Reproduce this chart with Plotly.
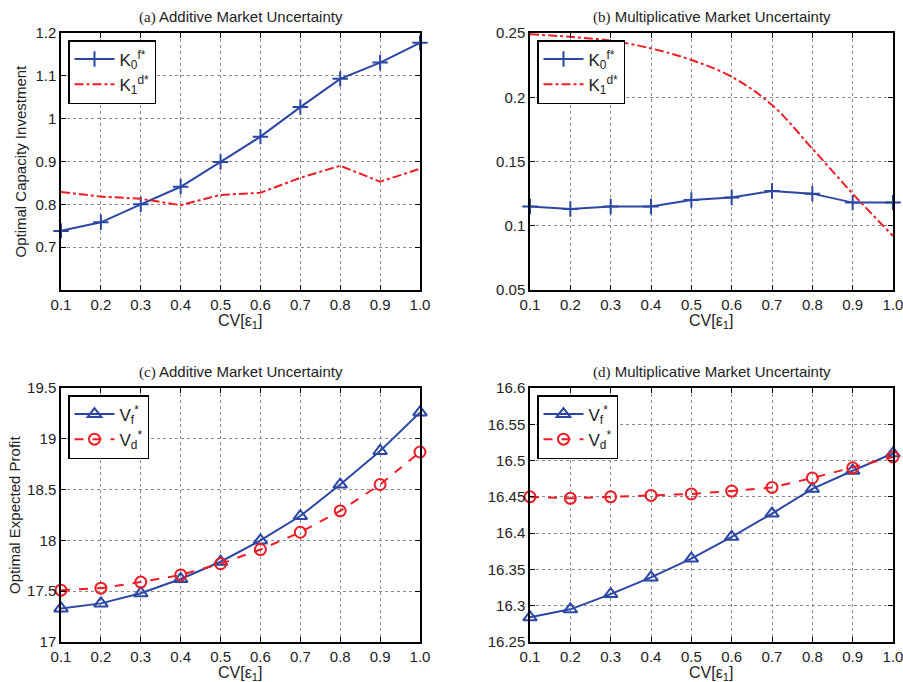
import plotly.graph_objects as go

cv = [0.1, 0.2, 0.3, 0.4, 0.5, 0.6, 0.7, 0.8, 0.9, 1.0]
cv_labels = ["0.1", "0.2", "0.3", "0.4", "0.5", "0.6", "0.7", "0.8", "0.9", "1.0"]

# (a) Additive - capacity
a_K0f = [0.738, 0.758, 0.800, 0.841, 0.899, 0.958, 1.027, 1.093, 1.131, 1.177]
a_K1d = [0.829, 0.818, 0.813, 0.798, 0.822, 0.827, 0.862, 0.890, 0.853, 0.883]
# (b) Multiplicative - capacity
b_K0f = [0.115, 0.113, 0.115, 0.115, 0.120, 0.122, 0.127, 0.125, 0.118, 0.118]
b_K1d = [0.249, 0.247, 0.244, 0.238, 0.229, 0.216, 0.194, 0.160, 0.125, 0.092]
# (c) Additive - profit
c_Vf = [17.33, 17.38, 17.48, 17.62, 17.79, 18.00, 18.24, 18.55, 18.88, 19.26]
c_Vd = [17.51, 17.53, 17.59, 17.66, 17.77, 17.91, 18.08, 18.29, 18.55, 18.87]
# (d) Multiplicative - profit
d_Vf = [16.284, 16.295, 16.316, 16.339, 16.365, 16.395, 16.427, 16.461, 16.486, 16.510]
d_Vd = [16.450, 16.448, 16.450, 16.452, 16.454, 16.458, 16.463, 16.476, 16.490, 16.505]

a_ticks = [0.7, 0.8, 0.9, 1.0, 1.1, 1.2]
a_ticktext = ["0.7", "0.8", "0.9", "1", "1.1", "1.2"]
b_ticks = [0.05, 0.1, 0.15, 0.2, 0.25]
b_ticktext = ["0.05", "0.1", "0.15", "0.2", "0.25"]
c_ticks = [17, 17.5, 18, 18.5, 19, 19.5]
c_ticktext = ["17", "17.5", "18", "18.5", "19", "19.5"]
d_ticks = [16.25, 16.3, 16.35, 16.4, 16.45, 16.5, 16.55, 16.6]
d_ticktext = ["16.25", "16.3", "16.35", "16.4", "16.45", "16.5", "16.55", "16.6"]

W, H = 903, 682
BLUE = "#2b47a3"
RED = "#ee1c25"
SANS = "Liberation Sans, Arial, sans-serif"

def px_x(p):
    return p / W

def px_y(p):
    return 1 - p / H

panels = {
    "a": dict(x0=61, x1=420, y0=33, y1=290),
    "b": dict(x0=530, x1=893, y0=33, y1=290),
    "c": dict(x0=61, x1=420, y0=388, y1=642),
    "d": dict(x0=530, x1=893, y0=388, y1=642),
}

fig = go.Figure()

K0 = "K<sub>0</sub><sup>f*</sup>"
K1 = "K<sub>1</sub><sup>d*</sup>"
VF = "V<sub>f</sub><sup>*</sup>"
VD = "V<sub>d</sub><sup>*</sup>"

# (a)
fig.add_trace(go.Scatter(x=cv, y=a_K0f, name=K0, mode="lines+markers",
                         line=dict(color=BLUE, width=2),
                         marker=dict(symbol="cross-thin", size=11, line=dict(color=BLUE, width=2)),
                         xaxis="x", yaxis="y", legend="legend", cliponaxis=False))
fig.add_trace(go.Scatter(x=cv, y=a_K1d, name=K1, mode="lines",
                         line=dict(color=RED, width=2, dash="dashdot"),
                         xaxis="x", yaxis="y", legend="legend"))
# (b)
fig.add_trace(go.Scatter(x=cv, y=b_K0f, name=K0, mode="lines+markers",
                         line=dict(color=BLUE, width=2),
                         marker=dict(symbol="cross-thin", size=11, line=dict(color=BLUE, width=2)),
                         xaxis="x2", yaxis="y2", legend="legend2", cliponaxis=False))
fig.add_trace(go.Scatter(x=cv, y=b_K1d, name=K1, mode="lines",
                         line=dict(color=RED, width=2, dash="dashdot", shape="spline"),
                         xaxis="x2", yaxis="y2", legend="legend2"))
# (c)
fig.add_trace(go.Scatter(x=cv, y=c_Vf, name=VF, mode="lines+markers",
                         line=dict(color=BLUE, width=2),
                         marker=dict(symbol="triangle-up-open", size=12, line=dict(color=BLUE, width=2)),
                         xaxis="x3", yaxis="y3", legend="legend3", cliponaxis=False))
fig.add_trace(go.Scatter(x=cv, y=c_Vd, name=VD, mode="lines+markers",
                         line=dict(color=RED, width=2, dash="dash"),
                         marker=dict(symbol="circle-open", size=11, line=dict(color=RED, width=2)),
                         xaxis="x3", yaxis="y3", legend="legend3", cliponaxis=False))
# (d)
fig.add_trace(go.Scatter(x=cv, y=d_Vf, name=VF, mode="lines+markers",
                         line=dict(color=BLUE, width=2),
                         marker=dict(symbol="triangle-up-open", size=12, line=dict(color=BLUE, width=2)),
                         xaxis="x4", yaxis="y4", legend="legend4", cliponaxis=False))
fig.add_trace(go.Scatter(x=cv, y=d_Vd, name=VD, mode="lines+markers",
                         line=dict(color=RED, width=2, dash="dash"),
                         marker=dict(symbol="circle-open", size=11, line=dict(color=RED, width=2)),
                         xaxis="x4", yaxis="y4", legend="legend4", cliponaxis=False))

axis_common = dict(showline=True, linecolor="black", linewidth=1.5, mirror="ticks",
                   ticks="inside", ticklen=5, tickcolor="black", automargin=False,
                   showgrid=True, gridcolor="#8a8a8a", griddash="dot", gridwidth=1,
                   zeroline=False, ticklabeloverflow="allow",
                   tickfont=dict(family=SANS, size=15, color="#222"))

layout = dict(width=W, height=H, margin=dict(l=0, r=0, t=0, b=0, autoexpand=False),
              plot_bgcolor="white", paper_bgcolor="white", showlegend=True,
              font=dict(family=SANS, color="#222"))

yinfo = {"a": ([0.6, 1.2], a_ticks, a_ticktext),
         "b": ([0.05, 0.25], b_ticks, b_ticktext),
         "c": ([17, 19.5], c_ticks, c_ticktext),
         "d": ([16.25, 16.6], d_ticks, d_ticktext)}

for i, k in enumerate(["a", "b", "c", "d"]):
    p = panels[k]
    sfx = "" if i == 0 else str(i + 1)
    layout["xaxis" + sfx] = dict(axis_common, domain=[px_x(p["x0"]), px_x(p["x1"])],
                                 range=[0.1, 1.0], tickvals=cv, ticktext=cv_labels,
                                 anchor="y" + sfx)
    rng, tv, tt = yinfo[k]
    layout["yaxis" + sfx] = dict(axis_common, domain=[px_y(p["y1"]), px_y(p["y0"])],
                                 range=rng, tickvals=tv, ticktext=tt,
                                 anchor="x" + sfx)
    leg = dict(x=px_x(p["x0"] + 7), y=px_y(p["y0"] + 7), xanchor="left", yanchor="top",
               bgcolor="white", bordercolor="black", borderwidth=1.5,
               font=dict(family=SANS, size=17, color="#222"), itemwidth=40,
               tracegroupgap=2)
    layout["legend" if i == 0 else "legend" + str(i + 1)] = leg

fig.update_layout(**layout)

titles = [
    ("a", "<span style='font-family:Liberation Serif'>(a)</span> Additive Market Uncertainty"),
    ("b", "<span style='font-family:Liberation Serif'>(b)</span> Multiplicative Market Uncertainty"),
    ("c", "<span style='font-family:Liberation Serif'>(c)</span> Additive Market Uncertainty"),
    ("d", "<span style='font-family:Liberation Serif'>(d)</span> Multiplicative Market Uncertainty"),
]
for k, t in titles:
    p = panels[k]
    fig.add_annotation(text=t, xref="paper", yref="paper",
                       x=px_x((p["x0"] + p["x1"]) / 2), y=px_y(p["y0"] - 5),
                       xanchor="center", yanchor="bottom", showarrow=False,
                       font=dict(family=SANS, size=15, color="#222"))
    fig.add_annotation(text="CV[ε<sub>1</sub>]", xref="paper", yref="paper",
                       x=px_x((p["x0"] + p["x1"]) / 2), y=px_y(p["y1"] + 20),
                       xanchor="center", yanchor="top", showarrow=False,
                       font=dict(family=SANS, size=16, color="#222"))

fig.add_annotation(text="Optimal Capacity Investment", xref="paper", yref="paper",
                   x=px_x(20), y=px_y((33 + 290) / 2), textangle=-90,
                   xanchor="center", yanchor="middle", showarrow=False,
                   font=dict(family=SANS, size=15, color="#222"))
fig.add_annotation(text="Optimal Expected Profit", xref="paper", yref="paper",
                   x=px_x(14), y=px_y((388 + 642) / 2), textangle=-90,
                   xanchor="center", yanchor="middle", showarrow=False,
                   font=dict(family=SANS, size=15, color="#222"))

fig.write_html("out.html", config={"displayModeBar": False},
               post_script="document.body.style.margin='0';")
